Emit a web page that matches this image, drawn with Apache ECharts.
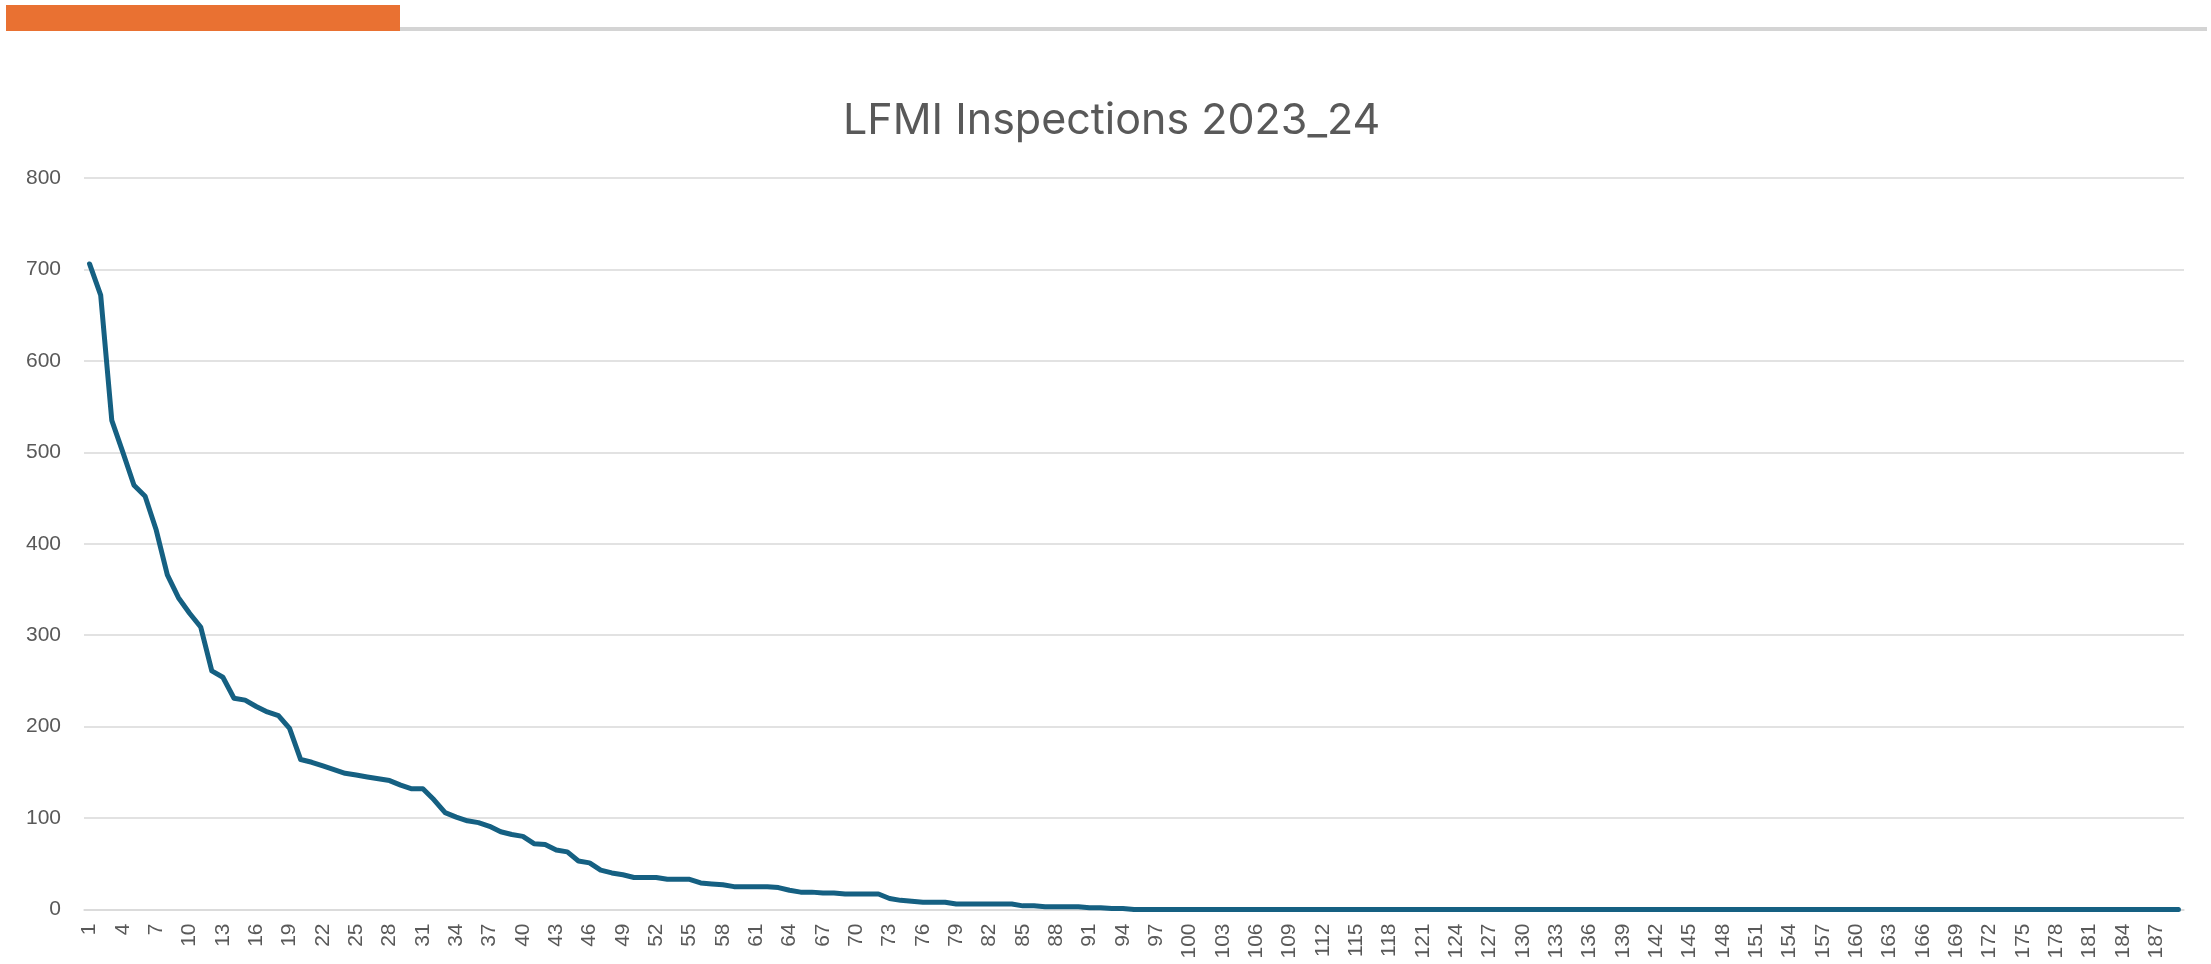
<!DOCTYPE html>
<html>
<head>
<meta charset="utf-8">
<script src="https://cdn.jsdelivr.net/npm/echarts@6/dist/echarts.min.js"></script>
<style>
	html, body { margin: 0; padding: 0; background: #ffffff; }
	#main { width: 2211px; height: 964px; }
</style>
</head>
<body>
<div id="main"></div>
<script>
// x categories are simply 1..189
var categories = [];
for (var i = 1; i <= 189; i++) categories.push(String(i));

// inspections per category
var inspections = [
	706, 672, 535, 500, 464, 452, 415, 366, 341, 324,
	309, 261, 254, 231, 229, 222, 216, 212, 198, 164,
	161, 157, 153, 149, 147, 145, 143, 141, 136, 132,
	132, 120, 106, 101, 97, 95, 91, 85, 82, 80,
	72, 71, 65, 63, 53, 51, 43, 40, 38, 35,
	35, 35, 33, 33, 33, 29, 28, 27, 25, 25,
	25, 25, 24, 21, 19, 19, 18, 18, 17, 17,
	17, 17, 12, 10, 9, 8, 8, 8, 6, 6,
	6, 6, 6, 6, 4, 4, 3, 3, 3, 3,
	2, 2, 1, 1, 0, 0, 0, 0, 0, 0,
	0, 0, 0, 0, 0, 0, 0, 0, 0, 0,
	0, 0, 0, 0, 0, 0, 0, 0, 0, 0,
	0, 0, 0, 0, 0, 0, 0, 0, 0, 0,
	0, 0, 0, 0, 0, 0, 0, 0, 0, 0,
	0, 0, 0, 0, 0, 0, 0, 0, 0, 0,
	0, 0, 0, 0, 0, 0, 0, 0, 0, 0,
	0, 0, 0, 0, 0, 0, 0, 0, 0, 0,
	0, 0, 0, 0, 0, 0, 0, 0, 0, 0,
	0, 0, 0, 0, 0, 0, 0, 0, 0
];

var chart = echarts.init(document.getElementById('main'), null, { renderer: 'canvas' });

var option = {
	backgroundColor: '#ffffff',
	animation: false,
	title: {
		text: 'LFMI Inspections 2023_24',
		left: 838,
		top: 95,
		textStyle: {
			color: '#595959',
			fontFamily: 'Inter',
			fontWeight: 'normal',
			fontSize: 43
		}
	},
	graphic: [{
		type: 'rect',
		shape: { x: 12, y: 27, width: 2195, height: 4 },
		style: { fill: '#d4d4d4' }
	}, {
		type: 'rect',
		shape: { x: 6, y: 5, width: 394, height: 26 },
		style: { fill: '#e97132' }
	}],
	grid: {
		left: 84,
		right: 27,
		top: 178,
		bottom: 54.5
	},
	xAxis: {
		type: 'category',
		data: categories,
		boundaryGap: true,
		axisLine: { lineStyle: { color: '#d9d9d9', width: 1.5 } },
		axisTick: { show: false },
		axisLabel: {
			interval: 2,
			rotate: 90,
			margin: 14,
			color: '#595959',
			fontFamily: 'Liberation Sans',
			fontSize: 21
		}
	},
	yAxis: {
		type: 'value',
		min: 0,
		max: 800,
		interval: 100,
		axisLine: { show: false },
		axisTick: { show: false },
		splitLine: { lineStyle: { color: '#d9d9d9', width: 1.5 } },
		axisLabel: {
			margin: 23,
			color: '#595959',
			fontFamily: 'Liberation Sans',
			fontSize: 21
		}
	},
	series: [{
		type: 'line',
		data: inspections,
		showSymbol: false,
		lineStyle: {
			color: '#156082',
			width: 5,
			cap: 'round',
			join: 'round'
		}
	}]
};

chart.setOption(option);
</script>
</body>
</html>
